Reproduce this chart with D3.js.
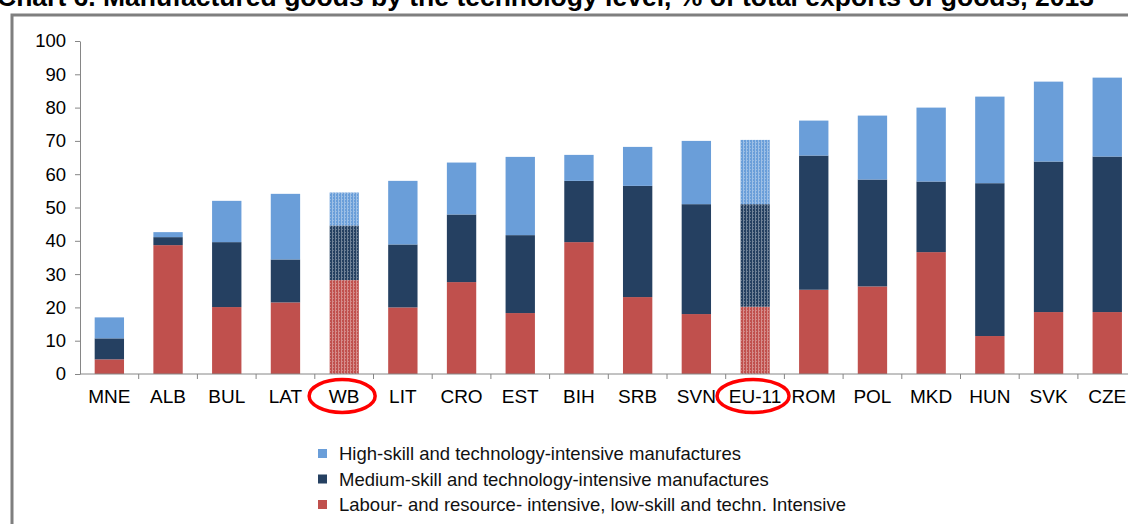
<!DOCTYPE html>
<html lang="en">
<head>
<meta charset="UTF-8">
<title>Manufactured goods by technology level</title>
<style>
  body { margin: 0; background: #fff; font-family: "Liberation Sans", Arial, sans-serif; }
  svg { display: block; }
  .axis path, .axis line { stroke: #868686; }
  .axis text { fill: #000; font-size: 18.5px; font-family: "Liberation Sans", Arial, sans-serif; }
  .xlabels text { font-size: 19px; }
  .legend text { font-size: 18.5px; fill: #111; }
</style>
</head>
<body>
<div id="chart"></div>
<script src="https://cdnjs.cloudflare.com/ajax/libs/d3/7.8.5/d3.min.js"></script>
<script>
  // categories and stacked values (% of total exports of goods)
  var countries = ["MNE", "ALB", "BUL", "LAT", "WB", "LIT", "CRO", "EST", "BIH", "SRB", "SVN", "EU-11", "ROM", "POL", "MKD", "HUN", "SVK", "CZE"];
  var lowSkill = [4.4, 38.7, 20.1, 21.5, 28.2, 20.0, 27.6, 18.3, 39.6, 23.1, 18.0, 20.2, 25.3, 26.3, 36.6, 11.4, 18.6, 18.6];
  var mediumSkill = [6.3, 2.4, 19.5, 12.9, 16.4, 18.9, 20.3, 23.4, 18.4, 33.4, 33.0, 30.8, 40.3, 32.1, 21.2, 45.9, 45.2, 46.7];
  var highSkill = [6.3, 1.5, 12.4, 19.7, 9.9, 19.1, 15.6, 23.5, 7.8, 11.7, 19.0, 19.3, 10.5, 19.2, 22.2, 26.0, 24.0, 23.7];
  var highlighted = ["WB", "EU-11"];
  var yTicks = [0, 10, 20, 30, 40, 50, 60, 70, 80, 90, 100];
  var seriesNames = [
    "High-skill and technology-intensive manufactures",
    "Medium-skill and technology-intensive manufactures",
    "Labour- and resource- intensive, low-skill and techn. Intensive"
  ];

  var colors = { low: "#c0504d", medium: "#254061", high: "#6a9ed9" };

  var width = 1128, height = 524;
  var margin = { top: 41, left: 80 };
  var plotBottom = 374;

  var svg = d3.select("#chart").append("svg")
      .attr("width", width)
      .attr("height", height);

  // patterns for the regional aggregates
  var defs = svg.append("defs");
  Object.keys(colors).forEach(function(k) {
    var p = defs.append("pattern")
        .attr("id", "dots-" + k)
        .attr("width", 3).attr("height", 3)
        .attr("patternUnits", "userSpaceOnUse");
    p.append("rect").attr("width", 3).attr("height", 3).attr("fill", colors[k]);
    p.append("rect").attr("x", 2).attr("width", 1).attr("height", 3).attr("fill", "#fff").attr("opacity", 0.35);
    p.append("rect").attr("x", 0).attr("y", 1).attr("width", 1).attr("height", 1).attr("fill", "#fff").attr("opacity", 0.3);
  });

  // title, clipped by the top edge as in the source
  svg.append("text")
      .attr("x", -3)
      .attr("y", 6)
      .style("font-size", "26.5px")
      .style("font-weight", "bold")
      .style("fill", "#000")
      .text("Chart 6. Manufactured goods by the technology level, % of total exports of goods, 2013");

  // frame
  svg.append("path")
      .attr("d", "M12," + height + "V15H" + width)
      .attr("fill", "none")
      .attr("stroke", "#7f7f7f")
      .attr("stroke-width", 3);

  var x = d3.scaleBand()
      .domain(countries)
      .range([margin.left, margin.left + 58.7 * countries.length])
      .paddingInner(0.5)
      .paddingOuter(0.25);

  var y = d3.scaleLinear()
      .domain([0, 100])
      .range([plotBottom, margin.top]);

  var rows = countries.map(function(c, i) {
    return { country: c, low: lowSkill[i], medium: mediumSkill[i], high: highSkill[i] };
  });

  var layers = d3.stack().keys(["low", "medium", "high"])(rows);

  svg.append("g").selectAll("g")
      .data(layers)
    .enter().append("g")
      .each(function(layer) {
        d3.select(this).selectAll("rect")
            .data(layer)
          .enter().append("rect")
            .attr("x", function(d) { return x(d.data.country); })
            .attr("width", x.bandwidth())
            .attr("y", function(d) { return y(d[1]); })
            .attr("height", function(d) { return y(d[0]) - y(d[1]); })
            .attr("fill", function(d) {
              return highlighted.indexOf(d.data.country) >= 0 ? "url(#dots-" + layer.key + ")" : colors[layer.key];
            });
      });

  // y axis
  svg.append("g")
      .attr("class", "axis")
      .attr("transform", "translate(" + margin.left + ",0)")
      .call(d3.axisLeft(y).tickValues(yTicks).tickSize(5).tickSizeOuter(0).tickPadding(9));

  // x axis with ticks between categories
  var step = x.step();
  var xAxisG = svg.append("g")
      .attr("class", "axis xlabels")
      .attr("transform", "translate(0," + plotBottom + ")");
  xAxisG.append("line")
      .attr("x1", margin.left).attr("x2", width)
      .attr("stroke", "#868686");
  xAxisG.selectAll(".tick")
      .data(countries)
    .enter().append("line")
      .attr("x1", function(d, i) { return margin.left + step * (i + 1); })
      .attr("x2", function(d, i) { return margin.left + step * (i + 1); })
      .attr("y2", 5)
      .attr("stroke", "#868686");
  xAxisG.selectAll("text")
      .data(countries)
    .enter().append("text")
      .attr("x", function(d) { return x(d) + x.bandwidth() / 2; })
      .attr("y", 29)
      .attr("text-anchor", "middle")
      .text(function(d) { return d; });

  // red circles around the aggregates
  svg.append("g").selectAll("ellipse")
      .data(highlighted)
    .enter().append("ellipse")
      .attr("cx", function(d) { return x(d) + x.bandwidth() / 2 - 2; })
      .attr("cy", plotBottom + 22)
      .attr("rx", function(d) { return d.length > 2 ? 36 : 33; })
      .attr("ry", 16.5)
      .attr("fill", "none")
      .attr("stroke", "#ff0000")
      .attr("stroke-width", 3.5);

  // legend
  var legendKeys = ["high", "medium", "low"];
  var legend = svg.append("g")
      .attr("class", "legend")
      .attr("transform", "translate(318,454)");
  var item = legend.selectAll("g")
      .data(seriesNames)
    .enter().append("g")
      .attr("transform", function(d, i) { return "translate(0," + (i * 25.5) + ")"; });
  item.append("rect")
      .attr("y", -5)
      .attr("width", 9).attr("height", 9)
      .attr("fill", function(d, i) { return colors[legendKeys[i]]; });
  item.append("text")
      .attr("x", 21)
      .attr("y", 0)
      .attr("dy", "0.35em")
      .text(function(d) { return d; });
</script>
</body>
</html>
